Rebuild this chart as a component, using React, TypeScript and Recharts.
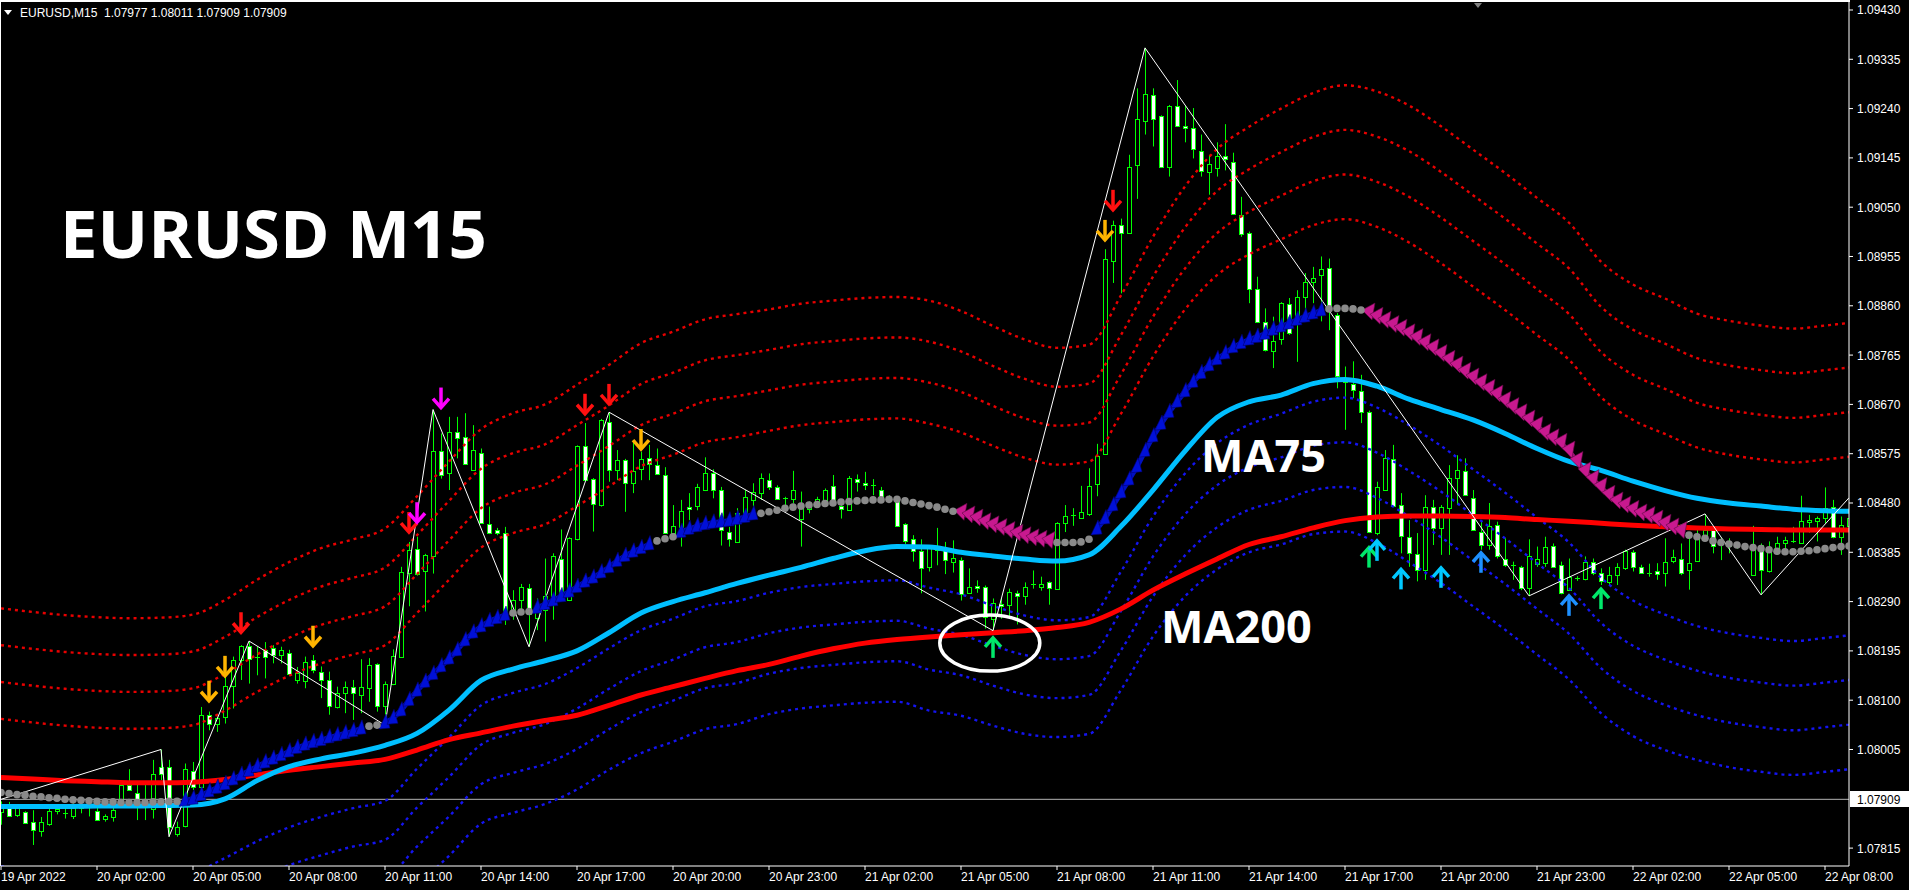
import React from "react";
import {
  ComposedChart,
  Bar,
  Line,
  Scatter,
  XAxis,
  YAxis,
  ReferenceLine,
  ReferenceDot,
} from "recharts";

// ─── Data (EURUSD M15, 19 Apr 23:00 → 22 Apr 08:45) ──────────────────────────
// [open, high, low, close] per 15-minute bar
const candles: [number, number, number, number][] = [
  [1.07885, 1.07905, 1.0786, 1.07895], [1.07895, 1.07904, 1.07875, 1.07876], [1.07879, 1.07895, 1.07875, 1.07892], [1.07884, 1.07886, 1.07862, 1.07863],
  [1.07866, 1.07888, 1.07821, 1.0785], [1.07847, 1.07875, 1.07837, 1.07866], [1.07861, 1.07895, 1.07858, 1.07887], [1.07887, 1.07893, 1.0788, 1.07891],
  [1.07882, 1.07891, 1.07872, 1.07881], [1.07876, 1.07901, 1.07871, 1.07892], [1.07893, 1.07907, 1.07882, 1.07898], [1.07898, 1.07904, 1.07876, 1.07894],
  [1.07887, 1.07895, 1.07868, 1.0787], [1.07872, 1.0788, 1.07866, 1.07877], [1.07874, 1.07901, 1.07866, 1.07888], [1.07898, 1.07938, 1.07895, 1.07936],
  [1.07936, 1.07967, 1.07927, 1.07927], [1.07922, 1.0794, 1.07869, 1.07906], [1.07898, 1.07943, 1.07869, 1.07895], [1.0789, 1.07985, 1.07872, 1.07957],
  [1.07972, 1.08005, 1.07946, 1.07957], [1.07972, 1.07985, 1.07837, 1.07856], [1.07843, 1.07866, 1.07837, 1.07856], [1.07857, 1.07978, 1.07855, 1.07967],
  [1.07964, 1.07981, 1.07927, 1.07933], [1.07932, 1.08087, 1.07927, 1.08071], [1.08071, 1.08078, 1.08042, 1.08054], [1.08054, 1.08068, 1.08039, 1.08065],
  [1.08068, 1.08184, 1.08055, 1.08128], [1.08128, 1.08184, 1.08084, 1.08177], [1.08177, 1.08206, 1.08139, 1.08204], [1.08204, 1.08214, 1.08132, 1.0818],
  [1.08184, 1.08203, 1.08148, 1.08183], [1.08197, 1.08212, 1.08142, 1.08184], [1.082, 1.08206, 1.08171, 1.08187], [1.08187, 1.08203, 1.08171, 1.08197],
  [1.0819, 1.08197, 1.08148, 1.0815], [1.08139, 1.08164, 1.08132, 1.08152], [1.08137, 1.08184, 1.08123, 1.08174], [1.08177, 1.08187, 1.08152, 1.08158],
  [1.08155, 1.08165, 1.08104, 1.08139], [1.08139, 1.08155, 1.08072, 1.08088], [1.08086, 1.08126, 1.08084, 1.08113], [1.08113, 1.08136, 1.08075, 1.08125],
  [1.08126, 1.08139, 1.08062, 1.08113], [1.0811, 1.08179, 1.08075, 1.08125], [1.08123, 1.08181, 1.08097, 1.08168], [1.08169, 1.08171, 1.08078, 1.08088],
  [1.08089, 1.08136, 1.08052, 1.08131], [1.08131, 1.08198, 1.08129, 1.08185], [1.08184, 1.08357, 1.08182, 1.08347], [1.08345, 1.08405, 1.08281, 1.08389],
  [1.08391, 1.08415, 1.0834, 1.08344], [1.08348, 1.08382, 1.08271, 1.0838], [1.08377, 1.0866, 1.08344, 1.08581], [1.08581, 1.08614, 1.08527, 1.08534],
  [1.08537, 1.08646, 1.08505, 1.08617], [1.08616, 1.08646, 1.08566, 1.08605], [1.08607, 1.08653, 1.08555, 1.08555], [1.08544, 1.0863, 1.08542, 1.08582],
  [1.08576, 1.08585, 1.08441, 1.08441], [1.08439, 1.08473, 1.0842, 1.08422], [1.08428, 1.08432, 1.08418, 1.08422], [1.08422, 1.08434, 1.08245, 1.08264],
  [1.08268, 1.08312, 1.08255, 1.08293], [1.08293, 1.08324, 1.08267, 1.08318], [1.08316, 1.08324, 1.08203, 1.08267], [1.08258, 1.08296, 1.08235, 1.08274],
  [1.08274, 1.08373, 1.08213, 1.083], [1.083, 1.08383, 1.08255, 1.08377], [1.08372, 1.08429, 1.08306, 1.08306], [1.08293, 1.08414, 1.08291, 1.08412],
  [1.0841, 1.08591, 1.08408, 1.08589], [1.08589, 1.08634, 1.08524, 1.08524], [1.08526, 1.08528, 1.08425, 1.08479], [1.08476, 1.08642, 1.08473, 1.0864],
  [1.08637, 1.08655, 1.08521, 1.08544], [1.08544, 1.08582, 1.08524, 1.08563], [1.08563, 1.08565, 1.08463, 1.08518], [1.08518, 1.08598, 1.08499, 1.08542],
  [1.08545, 1.08579, 1.08524, 1.08565], [1.08566, 1.08592, 1.08524, 1.08556], [1.08553, 1.08585, 1.08535, 1.08535], [1.08533, 1.08549, 1.08422, 1.08422],
  [1.08422, 1.08476, 1.08415, 1.08436], [1.08434, 1.08486, 1.08396, 1.08465], [1.08473, 1.08499, 1.08447, 1.08468], [1.08474, 1.08517, 1.08466, 1.0851],
  [1.08505, 1.08568, 1.08503, 1.08538], [1.08537, 1.08545, 1.08489, 1.08505], [1.08506, 1.08511, 1.08398, 1.08428], [1.08425, 1.08434, 1.08396, 1.08411],
  [1.08405, 1.0847, 1.08403, 1.0846], [1.0846, 1.08505, 1.08447, 1.08492], [1.08486, 1.08518, 1.08473, 1.08502], [1.085, 1.08537, 1.08486, 1.08528],
  [1.08524, 1.08537, 1.08505, 1.0851], [1.08511, 1.08514, 1.08487, 1.08487], [1.08489, 1.08492, 1.08466, 1.08489], [1.08487, 1.08542, 1.08479, 1.08505],
  [1.0845, 1.08502, 1.08396, 1.0847], [1.08468, 1.08483, 1.0846, 1.0848], [1.08479, 1.08492, 1.08473, 1.08487], [1.08485, 1.08508, 1.08479, 1.08506],
  [1.08513, 1.08534, 1.08479, 1.08483], [1.08474, 1.08479, 1.0845, 1.08468], [1.08467, 1.08532, 1.08465, 1.08529], [1.08526, 1.08535, 1.08502, 1.08521],
  [1.08519, 1.0854, 1.08505, 1.08514], [1.08514, 1.08526, 1.08495, 1.08513], [1.08506, 1.08511, 1.08491, 1.08491], [1.0849, 1.08495, 1.0848, 1.08485],
  [1.08483, 1.08492, 1.08436, 1.08436], [1.08439, 1.08441, 1.08401, 1.08407], [1.0841, 1.08418, 1.08367, 1.08388], [1.08388, 1.0841, 1.08306, 1.08354],
  [1.08357, 1.08399, 1.08348, 1.08393], [1.0839, 1.08432, 1.0836, 1.08397], [1.08389, 1.08405, 1.08343, 1.0837], [1.08366, 1.08408, 1.08346, 1.08374],
  [1.0837, 1.08375, 1.08292, 1.08304], [1.08307, 1.08354, 1.08305, 1.08319], [1.08321, 1.08331, 1.08307, 1.08317], [1.08319, 1.08321, 1.08238, 1.08261],
  [1.08257, 1.08296, 1.08234, 1.08288], [1.08285, 1.08296, 1.08257, 1.08281], [1.08284, 1.08315, 1.08261, 1.08309], [1.08307, 1.08311, 1.08246, 1.083],
  [1.08301, 1.08327, 1.08284, 1.08319], [1.08322, 1.0835, 1.08315, 1.08323], [1.08318, 1.08338, 1.08311, 1.08323], [1.08327, 1.08329, 1.08284, 1.08317],
  [1.08315, 1.08443, 1.08313, 1.08441], [1.08441, 1.08476, 1.08424, 1.08455], [1.08455, 1.0847, 1.08436, 1.08456], [1.08451, 1.08513, 1.0845, 1.08463],
  [1.08459, 1.08547, 1.08455, 1.08513], [1.08517, 1.08594, 1.08493, 1.08571], [1.08575, 1.08969, 1.08573, 1.0895], [1.08946, 1.09024, 1.08904, 1.09016],
  [1.09016, 1.09028, 1.08884, 1.09001], [1.09001, 1.09151, 1.08999, 1.09127], [1.09132, 1.09279, 1.09066, 1.0922], [1.09217, 1.09357, 1.0919, 1.09269],
  [1.09266, 1.09279, 1.09167, 1.0922], [1.09225, 1.09227, 1.09128, 1.09128], [1.09128, 1.09247, 1.09109, 1.09245], [1.09245, 1.09295, 1.09206, 1.09207],
  [1.09206, 1.09245, 1.09175, 1.09202], [1.09202, 1.09241, 1.09144, 1.09163], [1.09159, 1.0919, 1.09109, 1.09119], [1.09117, 1.09151, 1.09074, 1.09134],
  [1.09126, 1.09175, 1.09109, 1.09148], [1.09148, 1.0921, 1.09121, 1.09142], [1.09138, 1.09155, 1.09037, 1.09037], [1.09035, 1.0907, 1.08993, 1.08998],
  [1.09, 1.09003, 1.08865, 1.08892], [1.08892, 1.08916, 1.08829, 1.08829], [1.08828, 1.08855, 1.08772, 1.08774], [1.08772, 1.08839, 1.0874, 1.08793],
  [1.08796, 1.08867, 1.08785, 1.08865], [1.08864, 1.08875, 1.08804, 1.08807], [1.08825, 1.0889, 1.08752, 1.08876], [1.08876, 1.08923, 1.08846, 1.08905],
  [1.08906, 1.08935, 1.08865, 1.08913], [1.08919, 1.08955, 1.0883, 1.0893], [1.08932, 1.08951, 1.08813, 1.08852], [1.08842, 1.08846, 1.08701, 1.08724],
  [1.08714, 1.08743, 1.08621, 1.08711], [1.08709, 1.08753, 1.08682, 1.08698], [1.08695, 1.08727, 1.08634, 1.08656], [1.08656, 1.08658, 1.08422, 1.08425],
  [1.08422, 1.08521, 1.08418, 1.0851], [1.08506, 1.08582, 1.08505, 1.08566], [1.08564, 1.08592, 1.08472, 1.08474], [1.08476, 1.08499, 1.08383, 1.08417],
  [1.08414, 1.08447, 1.08357, 1.08383], [1.08382, 1.08422, 1.08329, 1.0835], [1.08351, 1.08495, 1.08332, 1.08473], [1.08473, 1.08486, 1.08399, 1.08431],
  [1.08431, 1.08476, 1.0838, 1.08472], [1.0847, 1.08553, 1.0838, 1.08528], [1.08528, 1.08572, 1.08476, 1.08543], [1.08542, 1.08566, 1.08495, 1.08495],
  [1.08489, 1.08505, 1.08428, 1.08428], [1.08425, 1.08447, 1.0839, 1.08399], [1.08399, 1.0848, 1.0839, 1.08436], [1.08438, 1.08444, 1.08373, 1.08378],
  [1.08373, 1.08412, 1.08357, 1.08361], [1.08359, 1.08367, 1.08332, 1.0836], [1.08357, 1.08359, 1.08312, 1.08316], [1.08316, 1.0841, 1.08301, 1.08378],
  [1.08363, 1.08396, 1.08357, 1.08373], [1.08364, 1.08415, 1.08357, 1.08395], [1.08398, 1.08402, 1.08356, 1.08356], [1.08361, 1.08367, 1.08304, 1.08306],
  [1.08313, 1.08373, 1.08311, 1.08338], [1.08334, 1.08339, 1.0833, 1.08335], [1.08333, 1.08377, 1.08331, 1.08367], [1.08367, 1.08373, 1.08341, 1.08345],
  [1.08345, 1.08354, 1.08322, 1.08329], [1.08327, 1.08357, 1.0832, 1.08341], [1.08341, 1.08364, 1.08322, 1.08357], [1.08354, 1.0839, 1.08351, 1.08388],
  [1.08386, 1.08389, 1.08348, 1.08356], [1.08356, 1.08361, 1.08345, 1.08346], [1.08345, 1.08363, 1.08338, 1.08346], [1.08348, 1.08364, 1.08332, 1.08343],
  [1.08345, 1.08412, 1.08319, 1.08367], [1.08369, 1.0839, 1.08364, 1.08375], [1.08373, 1.08402, 1.08341, 1.08346], [1.08351, 1.08412, 1.08313, 1.08365],
  [1.08369, 1.08428, 1.08367, 1.08418], [1.08418, 1.08459, 1.08415, 1.08427], [1.08427, 1.08429, 1.08383, 1.08397], [1.08404, 1.08412, 1.0837, 1.08403],
  [1.08397, 1.08412, 1.08383, 1.08395], [1.08398, 1.08402, 1.08392, 1.08397], [1.08397, 1.084, 1.0839, 1.08394], [1.08342, 1.08436, 1.0834, 1.084],
  [1.084, 1.08402, 1.08303, 1.08351], [1.08348, 1.08406, 1.08346, 1.0839], [1.08389, 1.08415, 1.0838, 1.08402], [1.08402, 1.08415, 1.08389, 1.08409],
  [1.08406, 1.08434, 1.08403, 1.08407], [1.08403, 1.08494, 1.08401, 1.08446], [1.08444, 1.08457, 1.08423, 1.08448], [1.08446, 1.08454, 1.08406, 1.08452],
  [1.08452, 1.0851, 1.08441, 1.0847], [1.08472, 1.08486, 1.08412, 1.08415], [1.08415, 1.08454, 1.0838, 1.08438], [1.08435, 1.0849, 1.08425, 1.08452],
];

// trend-coloured centre line (grey dots / blue arrows / pink arrows), one value per bar
const centerLine = [
  1.07922, 1.0792, 1.07918, 1.07917, 1.07915, 1.07914, 1.07912, 1.07911, 1.07909, 1.07908,
  1.07907, 1.07906, 1.07905, 1.07904, 1.07904, 1.07903, 1.07903, 1.07903, 1.07903, 1.07904,
  1.07904, 1.07905, 1.07905, 1.07907, 1.0791, 1.07917, 1.07924, 1.07931, 1.07938, 1.07947,
  1.07956, 1.07964, 1.07972, 1.0798, 1.07987, 1.07994, 1.08001, 1.08008, 1.08014, 1.08019,
  1.08023, 1.08028, 1.08032, 1.08036, 1.0804, 1.08045, 1.0805, 1.08052, 1.08056, 1.08065,
  1.0808, 1.081, 1.08118, 1.08135, 1.0815, 1.08165, 1.0818, 1.08196, 1.08215, 1.0823,
  1.08242, 1.08252, 1.08258, 1.08264, 1.08268, 1.0827, 1.08271, 1.08278, 1.08285, 1.08292,
  1.083, 1.08309, 1.08318, 1.08328, 1.08336, 1.08346, 1.08356, 1.08368, 1.08378, 1.08386,
  1.08393, 1.084, 1.08407, 1.08411, 1.08415, 1.08424, 1.0843, 1.08435, 1.08439, 1.08442,
  1.08444, 1.08446, 1.08449, 1.08453, 1.08458, 1.0846, 1.08463, 1.08466, 1.0847, 1.08472,
  1.08474, 1.08476, 1.08477, 1.08479, 1.0848, 1.08482, 1.08483, 1.08484, 1.08485, 1.08486,
  1.08486, 1.08487, 1.08487, 1.08484, 1.08481, 1.08478, 1.08475, 1.08472, 1.08468, 1.08464,
  1.0846, 1.08455, 1.08449, 1.08442, 1.08436, 1.08431, 1.08425, 1.0842, 1.08415, 1.08411,
  1.08408, 1.08406, 1.08404, 1.08404, 1.08404, 1.08405, 1.0841, 1.0843, 1.0845, 1.08475,
  1.085, 1.08525, 1.0855, 1.0858, 1.08608, 1.08632, 1.08655, 1.08675, 1.08695, 1.08713,
  1.0873, 1.08745, 1.08757, 1.08768, 1.0878, 1.08788, 1.08795, 1.088, 1.08806, 1.08814,
  1.0882, 1.08826, 1.08833, 1.08839, 1.08845, 1.08851, 1.08854, 1.08855, 1.08855, 1.08854,
  1.08852, 1.08846, 1.08838, 1.0883, 1.08822, 1.08815, 1.08806, 1.08797, 1.08787, 1.08777,
  1.08766, 1.08755, 1.08744, 1.08732, 1.08721, 1.0871, 1.08699, 1.08688, 1.08676, 1.08664,
  1.08652, 1.0864, 1.08628, 1.08614, 1.08604, 1.08595, 1.0858, 1.0856, 1.0854, 1.08525,
  1.0851, 1.08495, 1.08482, 1.08474, 1.08466, 1.08459, 1.08454, 1.08447, 1.08439, 1.08432,
  1.08425, 1.08418, 1.08415, 1.08412, 1.08407, 1.08404, 1.08401, 1.08399, 1.08396, 1.08394,
  1.08392, 1.0839, 1.08387, 1.08386, 1.08386, 1.08387, 1.08388, 1.0839, 1.08392, 1.08394,
  1.08396, 1.08397,
];

// bar ranges [from, to] for each centre-line state
const flatRuns = [[0, 22], [46, 47], [64, 66], [82, 84], [95, 119], [132, 136], [166, 170], [211, 231]];
const upRuns = [[23, 45], [48, 63], [67, 81], [85, 94], [137, 165]];
const downRuns = [[120, 131], [171, 210]];

// moving averages and envelope step, read every 4th bar (+ last bar)
const ma75 = [
  1.07895, 1.07895, 1.07895, 1.07896, 1.07896, 1.07897, 1.07898, 1.0791, 1.07945, 1.07972,
  1.07987, 1.07998, 1.08013, 1.08036, 1.08081, 1.08138, 1.0816, 1.08176, 1.08195, 1.0823,
  1.08268, 1.0829, 1.08307, 1.08325, 1.08341, 1.08356, 1.08373, 1.08388, 1.08396, 1.08395,
  1.08385, 1.08378, 1.08372, 1.08368, 1.0838, 1.08435, 1.08505, 1.0858, 1.08645, 1.08675,
  1.08688, 1.0871, 1.08718, 1.08705, 1.0868, 1.0866, 1.0864, 1.08614, 1.08585, 1.0856,
  1.08543, 1.08522, 1.08504, 1.08489, 1.0848, 1.08474, 1.08468, 1.08465, 1.08464,
];
const ma200 = [
  1.07951, 1.07948, 1.07945, 1.07943, 1.07941, 1.07941, 1.07942, 1.07947, 1.07956, 1.07965,
  1.07972, 1.07979, 1.07986, 1.08004, 1.08024, 1.08037, 1.0805, 1.08061, 1.08071, 1.0809,
  1.0811, 1.08126, 1.08142, 1.08157, 1.08169, 1.08185, 1.08199, 1.0821, 1.08217, 1.08222,
  1.08226, 1.0823, 1.08234, 1.0824, 1.0825, 1.08276, 1.08312, 1.08343, 1.08372, 1.084,
  1.08415, 1.08432, 1.08446, 1.08453, 1.08455, 1.08455, 1.08454, 1.08452, 1.08448, 1.08445,
  1.08441, 1.08437, 1.08434, 1.08432, 1.0843, 1.08429, 1.08428, 1.08428, 1.08428,
];
const bandStep = [
  0.00071, 0.00071, 0.00071, 0.00071, 0.00071, 0.00071, 0.00071, 0.00071, 0.00072, 0.00073,
  0.00074, 0.00074, 0.00075, 0.00075, 0.00076, 0.00076, 0.00077, 0.00077, 0.00078, 0.00078,
  0.00079, 0.00079, 0.00079, 0.00079, 0.00078, 0.00078, 0.00078, 0.00078, 0.00078, 0.00079,
  0.00078, 0.00077, 0.00076, 0.00075, 0.00075, 0.00076, 0.00077, 0.00079, 0.00081, 0.00082,
  0.00084, 0.00085, 0.00086, 0.00087, 0.00088, 0.00088, 0.00088, 0.00088, 0.00088, 0.00088,
  0.00087, 0.00087, 0.00087, 0.00086, 0.00086, 0.00086, 0.00086, 0.00086, 0.00086,
];
const bandLevels = [2, 3, 4, 5];

// zigzag pivots [bar, price]
const zigzag: [number, number][] = [
  [0, 1.07909], [20, 1.08005], [21, 1.07837], [31, 1.08214], [48, 1.08052], [54, 1.0866], [66, 1.08203],
  [76, 1.08655], [124, 1.08234], [143, 1.09357], [191, 1.08301], [213, 1.08459], [220, 1.08303], [231, 1.0849],
];

// signal arrows [bar, price at arrow tip, kind]
const sellSignals: [number, number, string][] = [
  [26, 1.08097, "orange"], [28, 1.08145, "orange"], [30, 1.08229, "red"], [39, 1.08203, "orange"],
  [51, 1.08422, "red"], [52, 1.08441, "magenta"], [55, 1.08662, "magenta"], [73, 1.0865, "red"],
  [76, 1.08669, "red"], [80, 1.08582, "orange"], [138, 1.08985, "orange"], [139, 1.09043, "red"],
];
const buySignals: [number, number, string][] = [
  [124, 1.08222, "green"], [171, 1.08396, "green"], [172, 1.08409, "cyan"], [175, 1.08354, "cyan"],
  [180, 1.08357, "cyan"], [185, 1.08386, "blue"], [196, 1.08303, "blue"], [200, 1.08316, "green"],
];

const lastPrice = 1.07909;
const priceTicks = [
  1.07815, 1.08005, 1.081, 1.08195, 1.0829, 1.08385, 1.0848, 1.08575, 1.0867,
  1.08765, 1.0886, 1.08955, 1.0905, 1.09145, 1.0924, 1.09335, 1.0943,
];
const timeLabels = [
  "19 Apr 2022", "20 Apr 02:00", "20 Apr 05:00", "20 Apr 08:00", "20 Apr 11:00",
  "20 Apr 14:00", "20 Apr 17:00", "20 Apr 20:00", "20 Apr 23:00", "21 Apr 02:00",
  "21 Apr 05:00", "21 Apr 08:00", "21 Apr 11:00", "21 Apr 14:00", "21 Apr 17:00",
  "21 Apr 20:00", "21 Apr 23:00", "22 Apr 02:00", "22 Apr 05:00", "22 Apr 08:00",
];
const barsPerLabel = 12;

// ─── Palette ──────────────────────────────────────────────────────────────────
const GREEN = "#00ff00";
const SIGNAL_COLORS: Record<string, string> = {
  orange: "#ffb400",
  red: "#ff1010",
  magenta: "#ff00ff",
  green: "#00e86a",
  cyan: "#00c8ff",
  blue: "#1e90ff",
};
const FONT = "'Liberation Sans', Arial, sans-serif";

// ─── Table for the chart ─────────────────────────────────────────────────────
const inRuns = (runs: number[][], i: number) => runs.some(([a, b]) => i >= a && i <= b);
const sampleIdx = ma75.map((_, k) => (k === ma75.length - 1 ? candles.length - 1 : k * 4));

const rows: any[] = candles.map(([o, h, l, c], i) => ({
  i, o, h, l, c,
  range: [l, h],
  cFlat: inRuns(flatRuns, i) ? centerLine[i] : null,
  cUp: inRuns(upRuns, i) ? centerLine[i] : null,
  cDown: inRuns(downRuns, i) ? centerLine[i] : null,
}));
sampleIdx.forEach((idx, k) => {
  const r = rows[idx];
  r.ma75 = ma75[k];
  r.ma200 = ma200[k];
  bandLevels.forEach((m) => {
    r["up" + m] = centerLine[idx] + m * bandStep[k];
    r["dn" + m] = centerLine[idx] - m * bandStep[k];
  });
});
zigzag.forEach(([idx, p]) => (rows[idx].zz = p));

const sellData = sellSignals.map(([i, p, kind]) => ({ i, p, kind }));
const buyData = buySignals.map(([i, p, kind]) => ({ i, p, kind }));
const timeTicks = timeLabels.map((_, k) => k * barsPerLabel);

// ─── Shapes ──────────────────────────────────────────────────────────────────
function Candle(props: any) {
  const { x, y, width, height, payload } = props;
  if (x == null || y == null || !payload) return <g />;
  const { o, h, l, c } = payload;
  const cx = Math.round(x + width / 2);
  const span = h - l || 1e-9;
  const py = (p: number) => y + ((h - p) / span) * height;
  const top = Math.round(Math.min(py(o), py(c)));
  const bot = Math.round(Math.max(py(o), py(c)));
  return (
    <g>
      <line x1={cx + 0.5} x2={cx + 0.5} y1={y} y2={y + height} stroke={GREEN} strokeWidth={1} />
      {bot - top < 2 ? (
        <line x1={cx - 2} x2={cx + 3} y1={top + 0.5} y2={top + 0.5} stroke={GREEN} strokeWidth={1} />
      ) : (
        <rect x={cx - 1.5} y={top + 0.5} width={4} height={bot - top} fill={c < o ? "#ffffff" : "#000000"} stroke={GREEN} strokeWidth={1} />
      )}
    </g>
  );
}

const greyDot = (p: any) =>
  p.cy == null || p.value == null ? <g key={p.index} /> : <circle key={p.index} cx={p.cx} cy={p.cy} r={3.8} fill="#8a8a8a" />;

const upTriangle = (p: any) =>
  p.cy == null || p.value == null ? (
    <g key={p.index} />
  ) : (
    <polygon key={p.index} points={`${p.cx - 6},${p.cy + 6} ${p.cx + 5},${p.cy + 5} ${p.cx + 1},${p.cy - 9}`} fill="#0010d8" stroke="#000070" strokeWidth={0.6} />
  );

const pinkTriangle = (p: any) =>
  p.cy == null || p.value == null ? (
    <g key={p.index} />
  ) : (
    <polygon key={p.index} points={`${p.cx - 7},${p.cy - 3} ${p.cx + 3},${p.cy + 7} ${p.cx + 6},${p.cy - 10}`} fill="#c8198f" stroke="#5a0840" strokeWidth={0.6} />
  );

function SellArrow(props: any) {
  const { cx, cy, payload } = props;
  const col = SIGNAL_COLORS[payload.kind];
  return (
    <g>
      <path d={`M${cx},${cy - 21} L${cx},${cy - 2}`} stroke={col} strokeWidth={3.5} />
      <path d={`M${cx - 8},${cy - 10} L${cx},${cy - 1} L${cx + 8},${cy - 10}`} fill="none" stroke={col} strokeWidth={3.5} />
    </g>
  );
}

function BuyArrow(props: any) {
  const { cx, cy, payload } = props;
  const col = SIGNAL_COLORS[payload.kind];
  return (
    <g>
      <path d={`M${cx},${cy + 21} L${cx},${cy + 2}`} stroke={col} strokeWidth={3.5} />
      <path d={`M${cx - 8},${cy + 10} L${cx},${cy + 1} L${cx + 8},${cy + 10}`} fill="none" stroke={col} strokeWidth={3.5} />
    </g>
  );
}

const TimeTick = (props: any) => {
  const { x, payload } = props;
  const label = timeLabels[Math.round(payload.value / barsPerLabel)];
  return (
    <text x={x} y={881} fill="#ffffff" fontSize={12} fontFamily={FONT} textAnchor="start">
      {label}
    </text>
  );
};

const PriceTick = (props: any) => {
  const { x, y, payload } = props;
  return (
    <text x={x} y={y} dy={4.5} fill="#ffffff" fontSize={12} fontFamily={FONT} textAnchor="start">
      {Number(payload.value).toFixed(5)}
    </text>
  );
};

const Ellipse = (p: any) => (
  <ellipse cx={p.cx} cy={p.cy} rx={50} ry={28} fill="none" stroke="#ffffff" strokeWidth={3.5} />
);

// ─── Chart ────────────────────────────────────────────────────────────────────
export default function App() {
  return (
    <div style={{ position: "fixed", left: 0, top: 0, width: 1909, height: 890, background: "#000", overflow: "hidden" }}>
      <ComposedChart width={1909} height={890} data={rows} margin={{ top: 2, right: 0, bottom: 0, left: 1 }}>
        <XAxis
          dataKey="i"
          type="number"
          domain={[0, candles.length - 1]}
          allowDataOverflow
          ticks={timeTicks}
          interval={0}
          height={24}
          tick={<TimeTick />}
          tickSize={4}
          axisLine={{ stroke: "#ffffff" }}
          tickLine={{ stroke: "#ffffff" }}
        />
        <YAxis
          orientation="right"
          type="number"
          domain={[1.077805, 1.094454]}
          allowDataOverflow
          ticks={priceTicks}
          interval={0}
          width={60}
          tick={<PriceTick />}
          tickSize={4}
          tickMargin={4}
          axisLine={{ stroke: "#ffffff" }}
          tickLine={{ stroke: "#ffffff" }}
        />
        <ReferenceLine y={lastPrice} stroke="#b4b4b4" strokeWidth={1} />

        <Bar dataKey="range" barSize={5} shape={(p: any) => <Candle {...p} />} isAnimationActive={false} />

        {bandLevels.map((m) => (
          <Line key={"up" + m} dataKey={"up" + m} type="monotone" connectNulls dot={false} stroke="#e80000" strokeWidth={2.4} strokeDasharray="3 4" isAnimationActive={false} />
        ))}
        {bandLevels.map((m) => (
          <Line key={"dn" + m} dataKey={"dn" + m} type="monotone" connectNulls dot={false} stroke="#1414f0" strokeWidth={2.4} strokeDasharray="3 4" isAnimationActive={false} />
        ))}

        <Line dataKey="ma200" type="monotone" connectNulls dot={false} stroke="#ff0000" strokeWidth={5} isAnimationActive={false} />
        <Line dataKey="ma75" type="monotone" connectNulls dot={false} stroke="#00bfff" strokeWidth={5} isAnimationActive={false} />

        <Line dataKey="cUp" type="linear" dot={upTriangle} stroke="#0010c0" strokeWidth={5} isAnimationActive={false} />
        <Line dataKey="cDown" type="linear" dot={pinkTriangle} stroke="#a0157a" strokeWidth={5} isAnimationActive={false} />
        <Line dataKey="cFlat" type="linear" dot={greyDot} stroke="none" isAnimationActive={false} />

        <Line dataKey="zz" type="linear" connectNulls dot={false} stroke="#ffffff" strokeWidth={1} isAnimationActive={false} />

        <Scatter data={sellData} dataKey="p" shape={(p: any) => <SellArrow {...p} />} isAnimationActive={false} />
        <Scatter data={buyData} dataKey="p" shape={(p: any) => <BuyArrow {...p} />} isAnimationActive={false} />

        <ReferenceDot x={123.6} y={1.0821} r={1} shape={Ellipse} />
      </ComposedChart>

      <svg width={1909} height={890} style={{ position: "absolute", left: 0, top: 0, pointerEvents: "none" }}>
        {/* chart frame */}
        <rect x={0} y={0} width={1850} height={2} fill="#ffffff" />
        <rect x={0} y={0} width={1} height={866} fill="#ffffff" />
        <polygon points="1474,3 1482,3 1478,8" fill="#808080" />
        {/* header */}
        <polygon points="4,10 12,10 8,15" fill="#ffffff" />
        <text x={20} y={17} fill="#ffffff" fontSize={12} fontFamily={FONT} style={{ whiteSpace: "pre" }}>
          {"EURUSD,M15  1.07977 1.08011 1.07909 1.07909"}
        </text>
        {/* current price tag */}
        <rect x={1850} y={791} width={59} height={16} fill="#ffffff" />
        <text x={1857} y={803.5} fill="#000000" fontSize={12} fontFamily={FONT}>1.07909</text>
        {/* annotations */}
        <text x={60} y={258} fill="#ffffff" fontSize={67} fontWeight={700} fontFamily="'Open Sans', sans-serif">EURUSD M15</text>
        <text x={1201} y={472} fill="#ffffff" fontSize={45} fontWeight={700} fontFamily="'Open Sans', sans-serif">MA75</text>
        <text x={1161} y={643} fill="#ffffff" fontSize={45} fontWeight={700} fontFamily="'Open Sans', sans-serif">MA200</text>
      </svg>
    </div>
  );
}
